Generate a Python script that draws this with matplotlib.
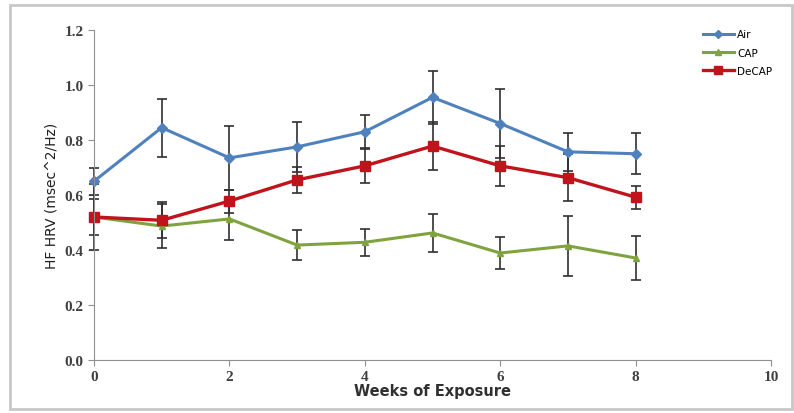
import matplotlib
matplotlib.use("Agg")
import matplotlib.pyplot as plt
from matplotlib.patches import Rectangle
from matplotlib.lines import Line2D

# data
weeks = [0, 1, 2, 3, 4, 5, 6, 7, 8]
air = [0.65, 0.845, 0.735, 0.775, 0.83, 0.955, 0.86, 0.757, 0.75]
air_err = [0.05, 0.105, 0.115, 0.09, 0.06, 0.095, 0.125, 0.07, 0.075]
cap = [0.52, 0.487, 0.513, 0.418, 0.428, 0.462, 0.389, 0.415, 0.371]
cap_err = [0.12, 0.08, 0.075, 0.056, 0.048, 0.07, 0.058, 0.11, 0.08]
decap = [0.52, 0.508, 0.578, 0.655, 0.706, 0.778, 0.706, 0.663, 0.592]
decap_err = [0.065, 0.065, 0.042, 0.048, 0.063, 0.087, 0.072, 0.085, 0.042]

yticks = [0.0, 0.2, 0.4, 0.6, 0.8, 1.0, 1.2]
xticks = [0, 2, 4, 6, 8, 10]

series = [
    ("Air", air, air_err, "#4F81BD", "D", 5, 2.2),
    ("CAP", cap, cap_err, "#7FA33F", "^", 5, 2.2),
    ("DeCAP", decap, decap_err, "#C0131B", "s", 7, 2.4),
]

fig = plt.figure(figsize=(7.94, 4.14), dpi=100)
fig.patches.append(Rectangle((0.012, 0.01), 0.985, 0.975, transform=fig.transFigure,
                             fill=False, edgecolor="#c8c8c8", linewidth=2))
ax = fig.add_axes([94 / 794, 53 / 414, 677 / 794, 330 / 414])

handles = []
for name, vals, errs, col, mk, ms, lw in series:
    eb = ax.errorbar(weeks, vals, yerr=errs, color=col, marker=mk, markersize=ms,
                     linewidth=lw, ecolor="#303030", elinewidth=1.2, capsize=3.5,
                     capthick=1.2)
    for art in eb.get_children():
        art.set_clip_on(False)
    handles.append(Line2D([], [], color=col, marker=mk, markersize=ms - 1,
                          linewidth=lw, label=name))

ax.set_xlim(0, 10)
ax.set_ylim(0, 1.2)
ax.set_xticks(xticks)
ax.set_yticks(yticks)
ax.set_yticklabels([f"{v:.1f}" for v in yticks])
ax.tick_params(direction="out", length=4, color="#909090", labelsize=11)
for lbl in ax.get_xticklabels() + ax.get_yticklabels():
    lbl.set_family("Liberation Serif")
    lbl.set_fontweight("bold")
    lbl.set_color("#404040")
for s in ["top", "right"]:
    ax.spines[s].set_visible(False)
for s in ["left", "bottom"]:
    ax.spines[s].set_color("#909090")

ax.set_xlabel("Weeks of Exposure", fontsize=10.5, fontweight="bold", labelpad=0,
              color="#303030")
ax.set_ylabel("HF HRV (msec^2/Hz)", fontsize=10, color="#202020")

ax.legend(handles=handles, loc="upper left", bbox_to_anchor=(0.885, 1.03),
          frameon=False, fontsize=7.5, handlelength=3, labelspacing=0.8,
          handletextpad=0.3)

fig.savefig("out.png", dpi=100)
